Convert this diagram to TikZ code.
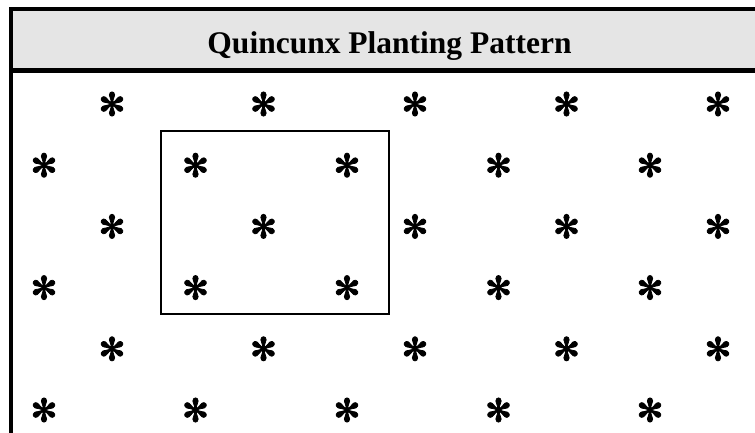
\documentclass[tikz,border=0pt]{standalone}
\usepackage{fontspec}
\setmainfont{Liberation Serif}
\newfontfamily\plantfont[FakeBold=2.5]{DejaVu Sans}
\colorlet{headerBand}{black!10}
\colorlet{frameLine}{black}

\begin{document}
\begin{tikzpicture}[
  x=1pt,
  y=-1pt,
  every frame line/.style={
    draw=frameLine,
    line width=4.5pt,
    line join=miter,
  },
  every plant/.style={
    inner sep=0pt,
    font=\plantfont\fontsize{32}{32}\selectfont,
  },
  every square/.style={
    draw=black,
    line width=2pt,
  },
  title/.style={
    anchor=base,
    inner sep=0pt,
    font=\bfseries\fontsize{31.5}{36}\selectfont,
  }
]
\useasboundingbox (0,0) rectangle (755,432);
% header band and frame
\fill[headerBand] (11,9) rectangle (755,70.5);
\draw[every frame line/.try] (755,9) -- (11,9) -- (11,440);
\draw[every frame line/.try] (11,70.5) -- (755,70.5);
\node[title] (title) at (389.5,53) {Quincunx Planting Pattern};
% plants, rows shifted in turn
\foreach[evaluate=\r as \rowY using 104+(\r-1)*61.2,
         evaluate=\r as \startX using {isodd(\r) ? 112 : 44}] \r in {1,...,6}
{
  \foreach[evaluate=\c as \colX using \startX+(\c-1)*151.5] \c in {1,...,5}
    \node[every plant/.try,name=p\r\c] at (\colX,\rowY) {✻};
}
% one quincunx unit
\draw[every square/.try] (161,131) rectangle (389,314);
\end{tikzpicture}
\end{document}
